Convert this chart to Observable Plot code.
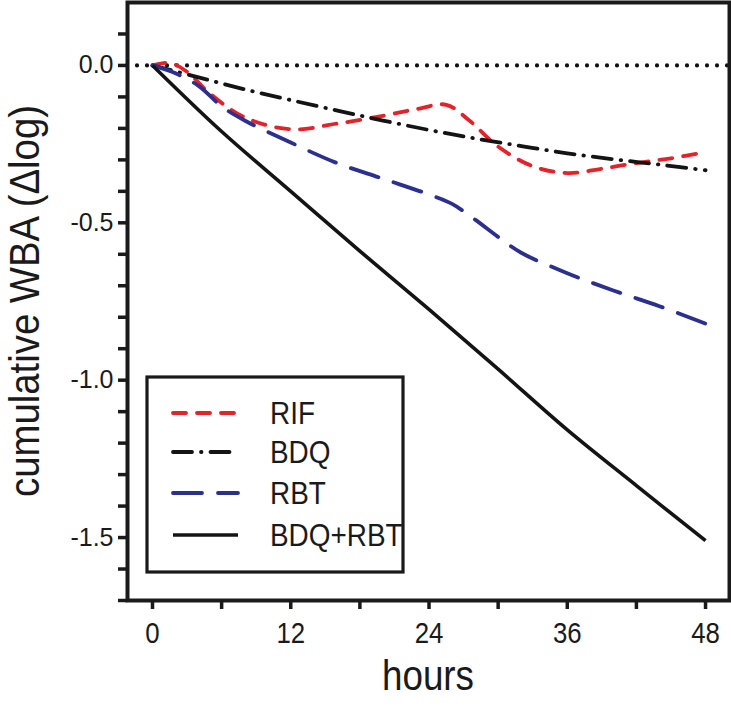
<!DOCTYPE html>
<html><head><meta charset="utf-8">
<script src="https://cdn.jsdelivr.net/npm/d3@7"></script>
<script src="https://cdn.jsdelivr.net/npm/@observablehq/plot@0.6"></script>
<style>body{margin:0;background:#fff}#chart{width:731px;height:712px}</style>
</head><body><div id="chart"></div>
<script>
// ---- data ----
const rifHours = [0, 1.5, 3, 5, 8, 12, 16, 20, 23, 25.5, 27.5, 30, 33, 36, 39, 42, 45, 48];
const rifValues = [0, 0.008, -0.02, -0.09, -0.165, -0.203, -0.185, -0.16, -0.138, -0.125, -0.175, -0.258, -0.32, -0.342, -0.328, -0.31, -0.295, -0.275];
const bdqHours = [0, 4, 8, 12, 16, 20, 24, 28, 32, 36, 40, 44, 48];
const bdqValues = [0, -0.038, -0.076, -0.11, -0.143, -0.175, -0.205, -0.232, -0.256, -0.279, -0.298, -0.315, -0.333];
const rbtHours = [0, 2, 4, 6, 8, 12, 16, 20, 24, 26, 28, 30, 32, 36, 40, 44, 48];
const rbtValues = [0, -0.025, -0.065, -0.13, -0.175, -0.245, -0.31, -0.36, -0.41, -0.44, -0.49, -0.545, -0.595, -0.66, -0.715, -0.765, -0.82];
const comboHours = [0, 6, 12, 18, 24, 30, 36, 42, 48];
const comboValues = [0, -0.21, -0.40, -0.59, -0.775, -0.965, -1.158, -1.335, -1.51];

const seriesNames = ["RIF", "BDQ", "RBT", "BDQ+RBT"];
const seriesColors = ["#e42229", "#141414", "#2b2f8e", "#141414"];
const seriesDashes = ["13,11", "19,9,0.5,9", "29,16", null];
const seriesWidths = [3.8, 3.8, 3.8, 3.6];

const xTickValues = [0, 6, 12, 18, 24, 30, 36, 42, 48];
const xTickLabels = ["0", "", "12", "", "24", "", "36", "", "48"];
const yTickValues = [0.1, 0, -0.1, -0.2, -0.3, -0.4, -0.5, -0.6, -0.7, -0.8, -0.9, -1.0, -1.1, -1.2, -1.3, -1.4, -1.5, -1.6, -1.7];
const yTickLabels = ["", "0.0", "", "", "", "", "-0.5", "", "", "", "", "-1.0", "", "", "", "", "-1.5", "", ""];
const xTitle = "hours";
const yTitle = "cumulative WBA (\u0394log)";

// ---- table ----
const seriesData = [
  [rifHours, rifValues], [bdqHours, bdqValues], [rbtHours, rbtValues], [comboHours, comboValues]
].map(([hs, vs], i) => hs.map((h, j) => ({hour: h, value: vs[j], series: seriesNames[i]})));

const font = "'Liberation Sans', Arial, Helvetica, sans-serif";

const lineMarks = seriesData.map((rows, i) => Plot.line(rows, {
  x: "hour", y: "value", curve: "catmull-rom",
  stroke: seriesColors[i], strokeWidth: seriesWidths[i],
  strokeDasharray: seriesDashes[i] || undefined,
  strokeLinecap: seriesDashes[i] ? "round" : "butt", strokeLinejoin: "round"
}));

const chart = Plot.plot({
  width: 731, height: 712,
  marginLeft: 127, marginRight: 2, marginTop: 2, marginBottom: 112,
  style: {fontFamily: font, background: "white", color: "#1a1a1a"},
  x: {domain: [-2.17, 50.08], label: null},
  y: {domain: [-1.7, 0.2], label: null},
  marks: [
    Plot.ruleY([0], {stroke: "#111", strokeWidth: 4.2, strokeDasharray: "0,10", strokeLinecap: "round"}),
    ...lineMarks,
    Plot.frame({stroke: "#1a1a1a", strokeWidth: 4}),
    Plot.axisY(yTickValues, {
      tickSize: 9, tickPadding: 5, strokeWidth: 3.5, fontSize: 25,
      tickFormat: (d) => yTickLabels[yTickValues.indexOf(d)], label: null
    }),
    Plot.axisX(xTickValues, {
      tickSize: 9, tickPadding: 12, strokeWidth: 3.5, fontSize: 30,
      tickFormat: (d) => xTickLabels[xTickValues.indexOf(d)], label: null
    })
  ]
});
document.getElementById("chart").appendChild(chart);

const svg = d3.select(chart);
function squeeze(sel, ratio) {
  sel.each(function() {
    const L = this.getComputedTextLength();
    if (L > 0) { this.setAttribute("textLength", L * ratio); this.setAttribute("lengthAdjust", "spacingAndGlyphs"); }
  });
}
squeeze(svg.selectAll('g[aria-label="x-axis tick label"] text'), 0.86);

// axis titles
svg.append("text").attr("transform", "translate(39,301) rotate(-90)")
  .attr("text-anchor", "middle").attr("font-family", font).attr("font-size", 42).attr("fill", "#1a1a1a")
  .attr("textLength", 392).attr("lengthAdjust", "spacingAndGlyphs").text(yTitle);
svg.append("text").attr("x", 428).attr("y", 690)
  .attr("text-anchor", "middle").attr("font-family", font).attr("font-size", 42).attr("fill", "#1a1a1a")
  .attr("textLength", 92).attr("lengthAdjust", "spacingAndGlyphs").text(xTitle);

// legend
const lg = svg.append("g").attr("font-family", font);
lg.append("rect").attr("x", 147).attr("y", 377).attr("width", 256).attr("height", 195)
  .attr("fill", "white").attr("stroke", "#1a1a1a").attr("stroke-width", 3.2);
const legendRowY = [413, 452, 493, 535];
seriesNames.forEach((name, i) => {
  lg.append("line").attr("x1", 173).attr("x2", 238).attr("y1", legendRowY[i]).attr("y2", legendRowY[i])
    .attr("stroke", seriesColors[i]).attr("stroke-width", seriesWidths[i])
    .attr("stroke-dasharray", seriesDashes[i] || null)
    .attr("stroke-linecap", seriesDashes[i] ? "round" : "butt");
  const t = lg.append("text").attr("x", 270).attr("y", legendRowY[i] + 11).attr("text-anchor", "start")
    .attr("font-size", 31).attr("fill", "#1a1a1a").text(name);
  squeeze(t, 0.9);
});
</script>
</body></html>
